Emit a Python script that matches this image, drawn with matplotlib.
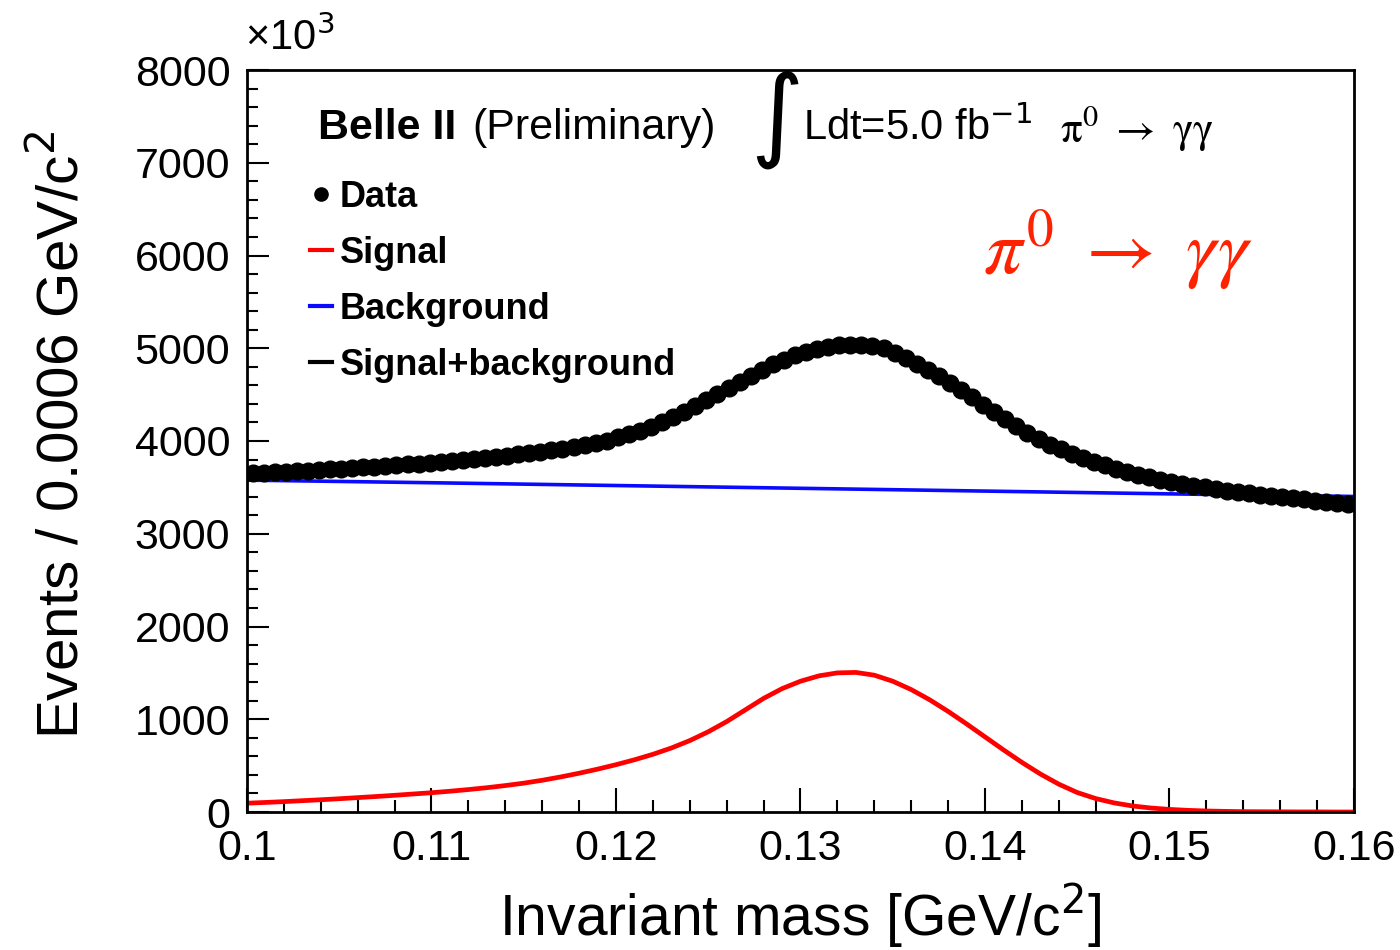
import matplotlib
matplotlib.use("Agg")
import matplotlib.pyplot as plt
from matplotlib.lines import Line2D
from matplotlib.ticker import MultipleLocator
import numpy as np

# pi0 -> gamma gamma invariant mass, Belle II preliminary (values in units of 10^3)
bin_width = 0.0006
data_mass = np.round(0.1003 + bin_width * np.arange(100), 4)
data_events = [
    3650, 3655, 3662, 3668, 3675, 3681, 3688, 3695, 3702, 3710,
    3717, 3725, 3733, 3741, 3749, 3757, 3766, 3775, 3785, 3795,
    3806, 3817, 3829, 3842, 3855, 3869, 3884, 3900, 3917, 3935,
    3955, 3977, 4000, 4045, 4078, 4113, 4150, 4210, 4262, 4318,
    4378, 4440, 4503, 4575, 4640, 4705, 4768, 4826, 4878, 4922,
    4960, 4990, 5013, 5030, 5038, 5035, 5022, 4998, 4945, 4890,
    4835, 4770, 4700, 4625, 4548, 4470, 4390, 4310, 4232, 4158,
    4088, 4022, 3960, 3915, 3860, 3815, 3775, 3740, 3700, 3668,
    3638, 3610, 3584, 3560, 3538, 3518, 3499, 3481, 3464, 3449,
    3435, 3422, 3409, 3396, 3383, 3370, 3357, 3344, 3331, 3318,
]

sig_mass = np.round(0.100 + 0.001 * np.arange(61), 3)
sig_events = [95, 103, 112, 122, 132, 143, 155, 167, 180, 194,
              208, 224, 242, 262, 285, 311, 342, 378, 418, 462,
              510, 563, 622, 690, 770, 865, 975, 1100, 1225, 1330,
              1410, 1468, 1500, 1505, 1475, 1410, 1320, 1210, 1085, 950,
              810, 670, 535, 410, 300, 210, 145, 98, 65, 43,
              28, 18, 11, 7, 4, 3, 2, 1, 1, 0, 0]

bkg_mass = [0.10, 0.11, 0.12, 0.13, 0.14, 0.15, 0.16]
bkg_events = [3578, 3550, 3520, 3490, 3460, 3430, 3402]

plt.rcParams['font.family'] = ['Liberation Sans', 'DejaVu Sans']

fig = plt.figure(figsize=(14, 9.5), dpi=100)
ax = fig.add_axes([247 / 1400, 1 - 812 / 950, 1107 / 1400, 742 / 950])

ax.plot(bkg_mass, bkg_events, color='#0a0aff', lw=2.6, zorder=2)
ax.plot(sig_mass, sig_events, color='#ff0000', lw=3.4, zorder=2)
ax.plot(data_mass, data_events, 'o', color='black', ms=12, zorder=3)

ax.set_xlim(0.1, 0.16)
ax.set_ylim(0, 8000)
ax.xaxis.set_minor_locator(MultipleLocator(0.002))
ax.yaxis.set_major_locator(MultipleLocator(1000))
ax.yaxis.set_minor_locator(MultipleLocator(200))
ax.set_xticks([0.1, 0.11, 0.12, 0.13, 0.14, 0.15, 0.16])
ax.set_xticklabels(['0.1', '0.11', '0.12', '0.13', '0.14', '0.15', '0.16'])
ax.tick_params(which='both', direction='in', top=False, right=False,
               labelsize=31, width=1.5)
ax.tick_params(axis='y', which='major', length=16, pad=12)
ax.tick_params(axis='y', which='minor', length=8)
ax.tick_params(axis='x', which='major', length=17, pad=12)
ax.tick_params(axis='x', which='minor', length=9)
for s in ax.spines.values():
    s.set_linewidth(2)

ax.set_xlabel('Invariant mass [GeV/c$^{2}$]', fontsize=41)
ax.xaxis.set_label_coords(0.4995, -0.093)
ax.set_ylabel('Events / 0.0006 GeV/c$^{2}$', fontsize=42)
ax.yaxis.set_label_coords(-0.141, 0.508)

fig.text(245 / 1400, 1 - 38 / 950, '×10$^{3}$', fontsize=30, va='center', ha='left')

fig.text(318 / 1400, 1 - 128 / 950, 'Belle II', fontsize=31, fontweight='bold', va='center')
fig.text(472 / 1400, 1 - 128 / 950, '(Preliminary)', fontsize=31, va='center')
fig.text(775 / 1400, 1 - 120 / 950, r'$\int$', fontsize=52, va='center', ha='center')
fig.text(803 / 1400, 1 - 128 / 950, 'Ldt=5.0 fb$^{-1}$', fontsize=30, va='center')
fig.text(1060 / 1400, 1 - 128 / 950, r'$\mathrm{\pi^{0}\ \rightarrow\ \gamma\gamma}$',
         fontsize=31, va='center', math_fontfamily='stix')

fig.text(983 / 1400, 1 - 250 / 950, r'$\pi^{0}\ \rightarrow\ \gamma\gamma$', color='#ff2200',
         fontsize=55, va='center', math_fontfamily='stix')

handles = [
    Line2D([], [], marker='o', ls='none', color='black', ms=9.5),
    Line2D([], [], color='#ff0000', lw=3),
    Line2D([], [], color='#0a0aff', lw=3),
    Line2D([], [], color='black', lw=3),
]
labels = ['Data', 'Signal', 'Background', 'Signal+background']
fig.legend(handles, labels, loc='upper left', bbox_to_anchor=(310 / 1400, 1 - 180 / 950),
           frameon=False, prop={'size': 26, 'weight': 'bold'}, handlelength=0.6,
           handletextpad=0.22, labelspacing=0.58, borderpad=0, borderaxespad=0)

fig.savefig('out.png', dpi=100)
